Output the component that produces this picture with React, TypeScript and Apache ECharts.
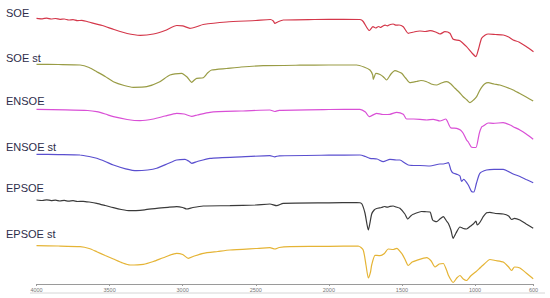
import React, { useEffect, useRef } from "react";
import * as echarts from "echarts";

// FTIR spectra, stacked (values increase downward, arbitrary units)
const tickValues = [4000, 3500, 3000, 2500, 2000, 1500, 1000, 600];
const seriesNames = ["SOE", "SOE st", "ENSOE", "ENSOE st", "EPSOE", "EPSOE st"];
const seriesColors = ["#d4374a", "#999c45", "#d94fd6", "#5a4fcf", "#3a3a3a", "#e5b435"];
const labelRows = [13, 58, 101, 147, 188, 234];

const soe = [
  [4000, 18.3], [3960, 18.8], [3930, 18.1], [3900, 19], [3870, 18.5], [3840, 19.4], [3810, 19], [3780, 20], [3750, 19.6], [3720, 20.6], [3690, 20.4],
  [3630, 22.5], [3550, 25.5], [3470, 29.5], [3380, 33.5], [3290, 35.3], [3200, 34], [3120, 30.5], [3040, 25.5], [3000, 25.8], [2950, 28.3],
  [2900, 26.5], [2860, 24.5], [2700, 22], [2500, 20.5], [2400, 19.5], [2380, 21], [2369, 23.5], [2350, 22], [2312, 20], [2100, 19.5],
  [1900, 19.3], [1787, 19.5], [1765, 21.5], [1724, 30.5], [1698, 26.7], [1680, 28], [1660, 26.5], [1645, 27.5], [1630, 26], [1615, 25.2], [1600, 25.8],
  [1580, 24.5], [1560, 24], [1540, 25.2], [1520, 25], [1491, 26.7], [1457, 33.3], [1420, 32], [1377, 31], [1340, 31.5], [1308, 30.7],
  [1270, 32], [1240, 34], [1206, 31.7], [1172, 33.3], [1149, 39.3], [1103, 40.7], [1058, 46.7], [1023, 52.7], [994, 56.7], [978, 50],
  [955, 38.3], [930, 35], [910, 34], [860, 34.5], [807, 35], [770, 37], [739, 40], [700, 42], [650, 46.5], [600, 51.7],
];

const soeSt = [
  [4000, 64.3], [3850, 64.5], [3702, 65], [3640, 67.5], [3588, 71.7], [3530, 76.5], [3474, 81.7], [3400, 85.5], [3338, 87.3], [3246, 86.7],
  [3160, 82], [3087, 75], [3007, 73.3], [2970, 77], [2938, 82.3], [2920, 80], [2904, 78.3], [2859, 77.7], [2830, 73], [2802, 70],
  [2700, 68.5], [2600, 67], [2449, 65.7], [2200, 65.2], [2000, 65], [1810, 65], [1760, 67], [1719, 70], [1700, 75], [1696, 79.3],
  [1678, 73.3], [1650, 74.5], [1628, 76.7], [1605, 80], [1575, 74], [1548, 70.7], [1520, 72], [1502, 73.3], [1475, 78], [1446, 82.7],
  [1400, 81.5], [1370, 80.5], [1331, 81.7], [1300, 84], [1263, 85], [1230, 83], [1194, 81.7], [1165, 84], [1137, 88.3], [1110, 92],
  [1081, 96.7], [1055, 100], [1035, 102.7], [1010, 100], [989, 96.7], [970, 91], [955, 87.3], [935, 84], [910, 82.7], [870, 84],
  [830, 85], [790, 87], [739, 90], [700, 93], [650, 97], [602, 101],
];

const ensoe = [
  [4000, 109.3], [3800, 109.8], [3650, 110.5], [3588, 111.7], [3530, 114], [3474, 116.7], [3380, 119.5], [3292, 120.7], [3200, 119],
  [3120, 116], [3041, 113.3], [2990, 114], [2938, 116.3], [2900, 115], [2813, 112.3], [2600, 111], [2403, 110], [2370, 111.5],
  [2340, 110.3], [2000, 109.5], [1787, 109.3], [1750, 112], [1724, 116.7], [1673, 113.3], [1630, 114.5], [1582, 114.3], [1536, 112.3],
  [1491, 114.3], [1468, 119], [1420, 119], [1377, 119.3], [1330, 120], [1286, 119.3], [1240, 121], [1200, 119], [1190, 121],
  [1167, 127.7], [1126, 128.3], [1100, 130], [1081, 133.3], [1058, 140], [1046, 142], [1023, 147.3], [994, 147.5], [971, 133.3],
  [955, 127], [944, 126], [910, 123], [876, 123.3], [807, 122.7], [760, 125], [739, 126.7], [693, 130], [650, 134], [602, 139.3],
];

const ensoeSt = [
  [4000, 154.3], [3850, 154.6], [3702, 155], [3640, 156.5], [3588, 158.3], [3530, 161.5], [3474, 165], [3390, 168.8], [3314, 170.7],
  [3240, 170], [3178, 168.3], [3100, 163.5], [3041, 160], [2984, 159.3], [2960, 161], [2938, 163.3], [2900, 161.5], [2813, 158.3],
  [2600, 156.8], [2403, 155.7], [2370, 156.8], [2340, 155.8], [2000, 155.2], [1787, 155], [1750, 156.5], [1719, 158.3], [1670, 159],
  [1628, 161.7], [1582, 159.3], [1540, 160], [1514, 160], [1480, 163], [1457, 165], [1400, 165.5], [1377, 165.5], [1308, 166],
  [1240, 164], [1217, 164], [1183, 162.7], [1165, 170], [1153, 172.7], [1120, 174.5], [1103, 176], [1092, 181.5], [1078, 179.3],
  [1046, 185], [1023, 191.7], [1008, 192], [990, 183], [967, 173.3], [921, 170], [870, 169.3], [807, 169.3], [739, 174], [693, 176.5],
  [650, 179.5], [602, 182.7],
];

const epsoe = [
  [4000, 200], [3960, 200.5], [3930, 199.8], [3900, 200.6], [3870, 200.1], [3840, 201], [3810, 200.4], [3780, 201.2], [3750, 200.7], [3720, 201.5],
  [3680, 201.3], [3640, 202], [3588, 203.3], [3530, 205.5], [3474, 207.7], [3420, 209.5], [3360, 210.7], [3260, 209.8], [3178, 208.3],
  [3100, 207.3], [3041, 206.7], [3000, 207.5], [2973, 209], [2930, 207.5], [2859, 206], [2677, 205.7], [2500, 205], [2403, 204],
  [2357, 205.7], [2312, 203.3], [2000, 202.8], [1810, 202.5], [1776, 203.5], [1753, 213], [1730, 230], [1707, 214], [1690, 210],
  [1673, 208.5], [1640, 207.5], [1620, 206.5], [1600, 207.2], [1582, 206.3], [1560, 206], [1540, 207], [1514, 208.3], [1480, 214], [1460, 219], [1440, 216],
  [1423, 214.3], [1366, 211.5], [1343, 211.7], [1308, 212], [1290, 220], [1263, 221.7], [1240, 219], [1217, 216.7], [1195, 221],
  [1183, 223.3], [1165, 230], [1150, 238.3], [1130, 233], [1103, 227], [1080, 228.5], [1058, 229], [1030, 226], [1012, 224],
  [994, 221], [985, 225], [965, 222], [944, 216.7], [921, 212.7], [898, 212.3], [860, 213.5], [807, 214], [770, 216], [750, 219.5],
  [730, 218.3], [693, 220], [650, 224], [602, 228.3],
];

const epsoeSt = [
  [4000, 245.7], [3850, 246], [3702, 246.7], [3640, 248.5], [3588, 251.7], [3530, 255.5], [3474, 259], [3410, 263], [3360, 265],
  [3269, 264.3], [3200, 261.5], [3133, 257.7], [3041, 253.3], [3000, 254.5], [2962, 258.3], [2920, 256], [2859, 253.3], [2760, 251.5],
  [2677, 250], [2500, 248.5], [2403, 247.7], [2369, 249], [2340, 247.5], [2266, 246.7], [2000, 246.3], [1799, 246], [1765, 250],
  [1746, 265], [1730, 278], [1715, 272], [1707, 265], [1684, 255.3], [1650, 255.7], [1620, 253.5], [1594, 249], [1560, 249.5],
  [1536, 248.3], [1502, 253.3], [1480, 259], [1457, 265.5], [1430, 262], [1399, 260.3], [1331, 257.7], [1300, 261], [1274, 267],
  [1245, 264], [1217, 263.5], [1195, 270], [1183, 275], [1160, 281], [1149, 282.5], [1125, 278], [1103, 275.5], [1080, 279],
  [1058, 280.5], [1030, 276], [994, 271.7], [970, 268.5], [944, 265], [898, 259.5], [860, 260.5], [807, 262], [770, 267],
  [750, 270.5], [730, 267], [693, 268], [650, 273], [602, 278.8],
];

const spectra = [soe, soeSt, ensoe, ensoeSt, epsoe, epsoeSt];

export default function App() {
  const ref = useRef<HTMLDivElement>(null);
  useEffect(() => {
    if (!ref.current) return;
    const chart = echarts.init(ref.current, null, { renderer: "svg" });
    chart.setOption({
      animation: false,
      backgroundColor: "#ffffff",
      grid: { left: 36.5, right: 16.5, top: 0, bottom: 14 },
      xAxis: {
        type: "value",
        min: 600,
        max: 4000,
        inverse: true,
        position: "bottom",
        splitLine: { show: false },
        axisLine: { show: true, onZero: false, lineStyle: { color: "#9a9a9a", width: 1 } },
        axisTick: { show: true, length: 2, customValues: tickValues, lineStyle: { color: "#9a9a9a" } },
        axisLabel: {
          customValues: tickValues,
          formatter: (v: number) => String(v),
          fontSize: 5.5,
          color: "#777777",
          margin: 3,
          fontFamily: "Liberation Sans",
        },
      },
      yAxis: { type: "value", min: 0, max: 284, inverse: true, show: false },
      graphic: [
        ...seriesNames.map((name, i) => ({
          type: "text",
          x: 6,
          y: labelRows[i],
          style: {
            text: name,
            fontSize: 11,
            fontFamily: "Liberation Sans",
            fill: "#2d2d4a",
            verticalAlign: "middle",
          },
        })),
        {
          type: "line",
          shape: { x1: 30, y1: 293, x2: 545, y2: 293 },
          style: { stroke: "#d6d6d6", lineWidth: 1 },
        },
      ],
      series: spectra.map((d, i) => ({
        type: "line",
        name: seriesNames[i],
        data: d,
        showSymbol: false,
        symbol: "none",
        smooth: 0.2,
        lineStyle: { color: seriesColors[i], width: 1.2 },
      })),
    });
    return () => chart.dispose();
  }, []);
  return <div ref={ref} style={{ position: "fixed", left: 0, top: 0, width: 550, height: 298 }} />;
}
